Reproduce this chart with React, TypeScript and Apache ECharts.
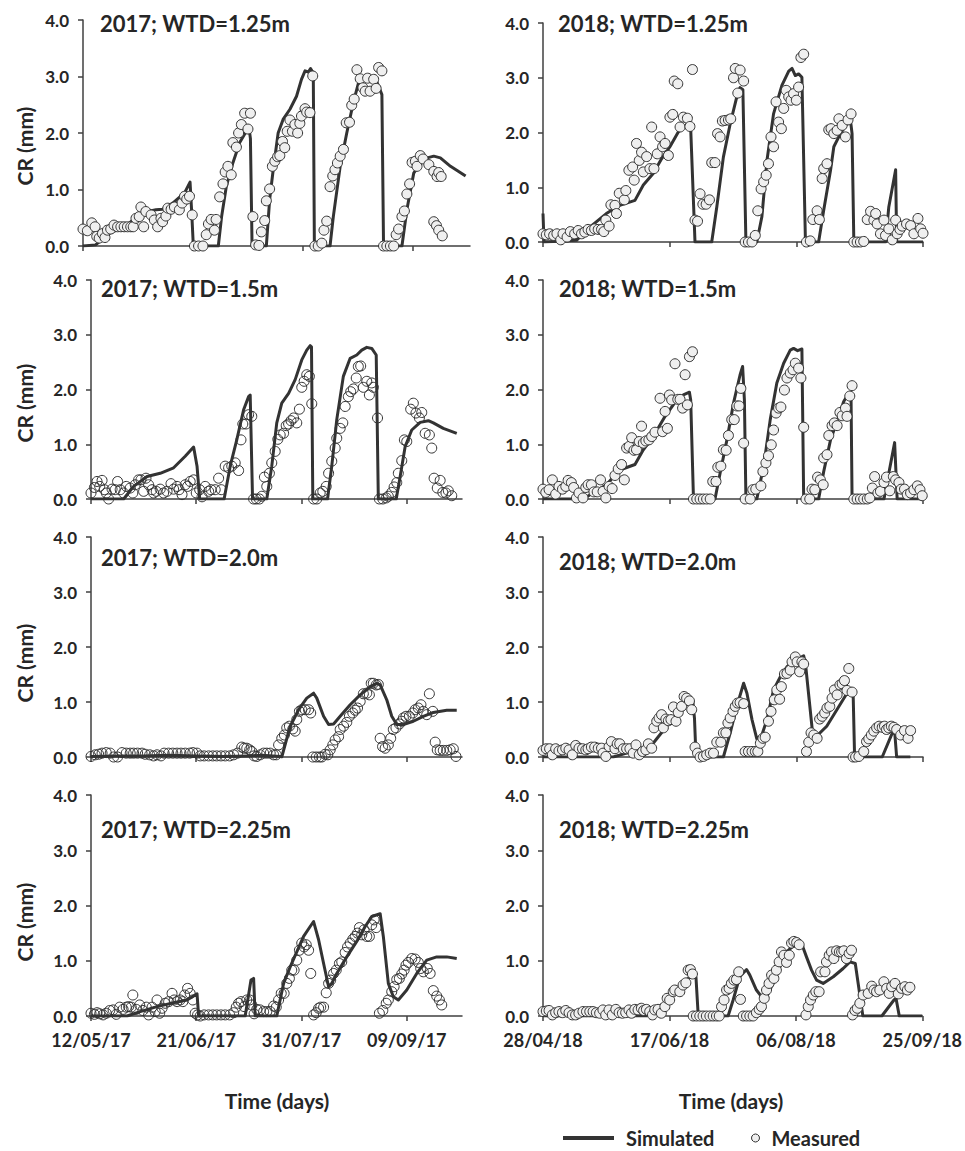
import React, { useEffect, useRef } from 'react';
import * as echarts from 'echarts';

// ---------------- DATA ----------------
const ticks2017 = ['12/05/17', '21/06/17', '31/07/17', '09/09/17'];
const ticks2018 = ['28/04/18', '17/06/18', '06/08/18', '25/09/18'];
const yTickValues = [0, 1, 2, 3, 4];
const panelTitles = [
  '2017; WTD=1.25m', '2018; WTD=1.25m',
  '2017; WTD=1.5m', '2018; WTD=1.5m',
  '2017; WTD=2.0m', '2018; WTD=2.0m',
  '2017; WTD=2.25m', '2018; WTD=2.25m',
];
const legendNames = ['Simulated', 'Measured'];
const yAxisTitle = 'CR (mm)';
const xAxisTitle = 'Time (days)';

// [day since axis start, CR mm]
const m2017_125 = [[0,0.30],[1.6,0.27],[3.2,0.41],[4.4,0.34],[5,0.17],[5.9,0.14],[7.1,0.22],[8,0.15],[8.9,0.28],[10.1,0.30],[11.3,0.37],[12.6,0.34],[13.8,0.34],[15,0.34],[16.2,0.34],[17.4,0.34],[18.3,0.34],[19.3,0.49],[20.5,0.52],[21.1,0.69],[22.1,0.34],[22.9,0.61],[24.8,0.55],[26,0.46],[27.2,0.34],[28.4,0.49],[29,0.43],[30.2,0.53],[30.9,0.67],[32.1,0.65],[33.3,0.69],[35.1,0.64],[36.1,0.76],[37,0.88],[37.8,0.83],[38.8,0.88],[39.8,0.55],[40.6,0],[42.1,0],[43.7,0],[44.9,0.20],[45.7,0.39],[46.7,0.47],[47.9,0.28],[48.5,0.47],[49.8,0.87],[51,1.10],[51.8,1.31],[52.8,1.41],[54,1.26],[54.6,1.83],[55.9,1.75],[56.7,2.0],[57.7,2.15],[58.9,2.35],[60.1,2.07],[61,2.35],[61.9,0.52],[62.9,0.02],[64.1,0.01],[65,0.25],[66.2,0.45],[66.8,0.80],[68,1.01],[69,1.41],[69.9,1.50],[70.9,1.58],[71.7,1.60],[72.7,1.85],[73.5,1.74],[74.4,2.03],[75.4,2.23],[76.3,2.03],[77.2,2.15],[78.2,2.0],[79,2.17],[79.6,2.30],[80.9,2.43],[81.5,2.37],[82.7,2.36],[83.7,3.01],[84.5,0],[85.7,0],[87,0.05],[87.8,0.28],[88.8,0.44],[90,1.05],[91,1.24],[91.8,1.35],[92.7,1.47],[93.7,1.59],[94.9,1.71],[95.9,2.18],[97.1,2.19],[97.9,2.49],[98.8,2.60],[99.8,3.12],[101,2.96],[102,2.80],[102.8,2.74],[103.7,2.97],[104.6,2.74],[105.9,2.95],[106.8,2.79],[107.7,3.16],[108.9,3.10],[109.5,0],[110.7,0],[112,0],[113.2,0],[114.1,0.20],[115,0.30],[116.2,0.52],[117.1,0.62],[118,0.92],[119,1.10],[119.9,1.48],[121.1,1.50],[121.7,1.41],[122.9,1.60],[123.9,1.54],[126,1.44],[127.8,1.32],[127.8,0.43],[128.8,0.36],[129,1.23],[129.6,1.30],[129.6,0.28],[130.5,1.23],[130.9,0.18]];
const s2017_125 = [[0,0],[4.6,0.02],[9.5,0.23],[15.6,0.34],[20.5,0.58],[26.6,0.64],[29,0.65],[32.7,0.76],[37,0.94],[39,1.13],[39.6,0.6],[40.2,0],[49.3,0],[50.5,0.52],[52.2,1.05],[54.6,1.47],[57.1,1.83],[59.5,2.03],[60.5,2.09],[61,1.9],[61.6,0],[66.8,0],[68,0.82],[69.3,1.35],[71.1,2.0],[72.9,2.24],[75.4,2.42],[77.8,2.65],[79.6,2.95],[80.9,3.10],[82.1,3.08],[82.9,3.14],[83.9,3.06],[84.3,0],[90,0],[91.2,0.52],[93.7,1.41],[96.1,2.0],[98.5,2.54],[100.4,2.89],[102.2,2.95],[104.6,2.95],[107.1,2.90],[108.9,2.68],[109.5,0],[116.2,0],[118,0.64],[120.5,1.29],[122.9,1.47],[125.4,1.56],[127.8,1.59],[130.2,1.56],[133.9,1.41],[139.4,1.24]];

const m2018_125 = [[0,0.15],[1.3,0.13],[2.6,0.15],[4.2,0.12],[5.5,0.15],[7,0.04],[7.9,0.15],[9.5,0.09],[10.8,0.19],[12.5,0.15],[13.9,0.21],[15.2,0.15],[16.5,0.18],[17.8,0.23],[19.1,0.21],[20.4,0.24],[21.8,0.23],[23.1,0.23],[24,0.19],[24.8,0.40],[26.1,0.29],[26.8,0.68],[28.4,0.67],[29,0.52],[30.1,0.89],[32.1,0.77],[32.7,0.94],[33.9,1.31],[35.4,1.37],[36,1.13],[36.9,1.80],[38,1.49],[38.9,1.64],[39.6,1.28],[40.9,1.56],[42.2,1.34],[42.9,2.10],[43.8,1.34],[45.1,1.61],[46.2,1.92],[47.2,1.74],[48.2,1.80],[49.5,1.58],[50.1,2.28],[51.2,2.33],[51.8,2.94],[53.2,2.89],[54.1,2.10],[55.4,2.28],[57,2.26],[58,2.11],[59,3.15],[60,0.40],[61,0.38],[62,0.88],[63.1,0.69],[64.4,0.69],[65.7,0.77],[66.6,1.45],[67.9,1.45],[68.9,1.98],[69.9,1.92],[70.8,2.21],[71.9,2.22],[73.2,2.23],[74.1,2.25],[75.2,3.00],[75.9,3.17],[76.9,2.72],[77.8,3.14],[79.2,2.94],[79.8,0],[81.1,0],[82.5,0],[83.8,0.12],[84.8,0.57],[86.1,0.97],[87.1,1.10],[88.1,1.22],[89,1.43],[90,1.92],[91,1.74],[92,2.56],[93,2.19],[94.1,2.07],[95,2.44],[96,2.77],[97,2.65],[97.9,2.59],[98.9,2.71],[100,2.59],[100.9,2.83],[101.8,3.37],[102.9,3.43],[104,0],[105.5,0.02],[106.5,0.41],[108.2,0.57],[109.1,0.41],[110.2,1.16],[110.8,1.34],[112.1,1.43],[112.8,2.05],[113.7,2.07],[114.8,1.98],[116.1,2.04],[116.8,2.25],[118.1,2.13],[119.4,1.92],[120.4,2.23],[121.6,2.34],[122.7,0],[124,0],[125.3,0],[126.6,0.01],[128,0.41],[129.3,0.56],[130.6,0.40],[131.3,0.52],[131.9,0.33],[133.2,0.15],[134.6,0.40],[135.2,0.12],[136.5,0.24],[137.9,0.04],[139.2,0.40],[139.8,0.15],[140.9,0.23],[141.8,0.29],[143.5,0.33],[145.1,0.30],[146.4,0.15],[148,0.43],[149.1,0.24],[150,0.16]];
const s2018_125 = [[0,0.52],[0.4,0],[13.2,0.03],[18.5,0.27],[25,0.52],[30.3,0.67],[36.3,0.76],[39.6,1.04],[43.5,1.25],[46.8,1.52],[50.1,1.74],[53.4,2.01],[55.4,2.10],[57.4,2.16],[58.3,2.07],[60,0],[66.6,0],[68.6,0.64],[71.2,1.55],[73.9,2.16],[76.5,2.65],[77.8,2.82],[78.9,2.78],[80.1,0],[84.4,0],[86.4,0.46],[88.4,1.49],[91,2.34],[94.3,2.86],[97,3.12],[98.3,3.17],[99.6,3.04],[100.9,3.07],[102.2,3.01],[103.6,0],[108.8,0],[110.8,0.58],[113.5,1.31],[114.8,1.74],[117.4,1.98],[120,2.16],[121.4,2.21],[122,1.98],[122.7,0],[135.2,0],[136.5,0.64],[139.2,1.32],[139.6,0],[150,0]];

const m2017_150 = [[0,0.11],[1.3,0.21],[2.3,0.32],[3.3,0.23],[4.2,0.34],[5.1,0.17],[5.8,0.11],[6.7,0],[8,0.18],[9.2,0.17],[10.1,0.32],[11.1,0.17],[12.4,0.11],[13.4,0.23],[14.9,0.20],[15.9,0.11],[16.8,0.26],[18.1,0.35],[19,0.35],[20,0.14],[20.9,0.38],[21.9,0.26],[23.2,0.17],[23.8,0.11],[24.8,0.14],[26.3,0.18],[27.6,0.11],[28.9,0.14],[30.4,0.28],[31.4,0.18],[32.7,0.23],[33.5,0.17],[34.6,0.08],[35.8,0.26],[36.7,0.23],[37.7,0.32],[39,0.35],[40,0.11],[41.3,0.17],[42.2,0.04],[43.4,0.23],[44.7,0.14],[45.6,0.17],[47.2,0.17],[48.5,0.38],[49.5,0.17],[51,0.60],[52.3,0.57],[53.5,0.60],[54.8,0.66],[56.1,0.52],[57,1.08],[57.7,1.37],[58.9,1.37],[59.9,1.54],[61.1,1.51],[61.8,0],[62.8,0],[64,0],[64.9,0.05],[65.9,0.40],[66.8,0.23],[67.8,0.47],[68.7,0.66],[70,0.87],[71,1.09],[71.9,1.17],[73.2,1.20],[74.2,1.34],[75.1,1.37],[76,1.43],[77,1.48],[78.2,1.39],[79.2,1.64],[80.1,2.04],[81,2.15],[82,2.27],[83,2.24],[83.9,1.74],[84.6,0],[85.8,0],[87.1,0.11],[88.1,0.14],[89.4,0.23],[90.3,0.47],[91.5,0.69],[92.8,0.93],[93.4,1.11],[94.7,1.29],[95.7,1.39],[96.6,1.69],[97.8,1.87],[98.7,1.96],[99.7,2.01],[100.8,2.21],[101.6,2.42],[102.5,2.43],[103.5,2.04],[104.8,2.15],[105.8,1.90],[106.7,2.12],[107.3,2.04],[108.9,1.48],[109.6,0],[110.9,0],[112.2,0.02],[113,0.05],[114.3,0.12],[115.2,0.22],[116.2,0.30],[116.8,0.47],[118.1,0.70],[119.1,1.08],[120,1.05],[121.5,1.64],[122.5,1.75],[123.5,1.57],[124.8,1.48],[125.7,1.58],[127,1.20],[128.6,1.17],[129.5,0.93],[130.4,0.38],[131.6,0.20],[132.7,0.34],[133.7,0.12],[134.9,0.11],[135.8,0.15],[137.1,0.06]];
const s2017_150 = [[0,0],[12.4,0],[16.2,0.23],[21.3,0.41],[26.3,0.47],[31.4,0.57],[35.8,0.78],[39,0.95],[40.3,0.60],[41.3,0],[50.6,0],[52.9,0.60],[55.4,1.08],[58,1.63],[59.9,1.87],[60.5,1.90],[61.4,0],[66.8,0],[68.7,0.60],[70.6,1.39],[72.5,1.75],[75.1,1.93],[77.6,2.18],[80.1,2.54],[82,2.72],[83.3,2.80],[83.8,2.78],[84.3,0],[89.9,0],[91.5,0.60],[93.4,1.45],[95.9,2.24],[98.5,2.57],[101,2.63],[102.9,2.72],[104.8,2.77],[106.7,2.75],[108.4,2.63],[109.2,0],[116,0],[117.5,0.41],[119.4,0.96],[121.9,1.26],[125.1,1.40],[128.2,1.43],[130.1,1.39],[133.9,1.29],[139,1.20]];

const m2018_150 = [[0,0.18],[1.1,0.12],[2.4,0.17],[3.7,0.35],[5,0.09],[6.3,0.23],[7.7,0.18],[9,0.23],[9.9,0.34],[11.2,0.30],[12.1,0.21],[13.2,0.02],[14.2,0.11],[15.8,0.02],[16.9,0.21],[17.8,0.26],[19.1,0.26],[20.1,0.13],[21.4,0.13],[22.7,0.35],[23.7,0.14],[24.8,0.02],[26.1,0.23],[27.3,0.19],[28.4,0.43],[29.7,0.55],[31,0.63],[32.1,0.35],[33,0.93],[34,0.96],[35,1.12],[35.9,0.89],[36.9,0.90],[38,1.05],[38.9,1.33],[39.6,1.02],[40.6,1.06],[41.8,1.08],[42.9,1.14],[44.2,1.22],[46.2,1.84],[47.2,1.23],[48.2,1.60],[49.1,1.29],[49.9,1.90],[50.8,1.81],[52.1,2.47],[53.2,1.82],[54.1,1.82],[55.1,1.66],[56.1,2.27],[57,1.72],[57.8,2.60],[59,2.69],[59.4,0],[60.7,0],[62,0],[63.3,0],[64.6,0],[66,0],[67,0.32],[68.3,0.32],[69,0.58],[70.2,0.60],[71.2,0.90],[72.3,0.89],[73.2,1.16],[74.5,1.45],[75.5,1.45],[76.5,1.70],[77.4,1.70],[78.1,2.02],[79.2,1.02],[79.8,0],[81.8,0],[82.8,0.17],[84,0.18],[86,0.24],[86.8,0.50],[88,0.66],[89,0.79],[90.1,0.99],[91,1.26],[92,1.57],[93,1.66],[93.9,1.68],[95.3,1.99],[96.3,2.21],[97.6,2.30],[98.7,2.36],[99.6,2.48],[100.9,2.39],[101.8,2.21],[102.9,1.31],[103.8,0],[105.3,0],[106.2,0.18],[107.3,0.17],[108.4,0.40],[109.5,0.35],[110.6,0.26],[110.8,0.75],[112.1,0.81],[112.8,1.16],[114.1,1.34],[115,1.39],[116.1,1.34],[117.2,1.58],[118.1,1.52],[119.4,1.66],[120,1.51],[121.1,1.88],[122,2.07],[122.7,0],[124,0],[125.3,0],[126.6,0],[128,0],[129,0.02],[130,0.20],[130.9,0.41],[132.2,0.11],[133.2,0.14],[134.6,0.30],[135.6,0.40],[136.9,0.15],[138.3,0.41],[139.2,0.35],[140.5,0.30],[141.4,0.18],[142.7,0.18],[143.8,0.08],[145.1,0.11],[146.4,0.17],[147.8,0.24],[148.8,0.17],[149.7,0.06]];
const s2018_150 = [[0,0],[15.8,0],[19.8,0.11],[25,0.26],[30.3,0.53],[36.3,0.63],[39.6,0.90],[43.5,1.14],[48.2,1.51],[52.8,1.81],[55.4,1.90],[57.8,1.95],[58.3,1.81],[59.4,0],[67.9,0],[69.9,0.47],[72.6,1.08],[75.2,1.75],[77.8,2.27],[78.8,2.42],[79.5,1.81],[80.1,0],[84.4,0],[87.1,0.60],[89.7,1.45],[92.3,2.12],[95,2.48],[97.6,2.72],[98.9,2.75],[100.5,2.71],[102.2,2.74],[102.9,0],[108.8,0],[110.8,0.50],[113.5,1.08],[116.1,1.42],[118.7,1.78],[120.7,1.93],[121.6,1.84],[122,0],[134.6,0],[136.5,0.47],[138.8,1.03],[139.8,0],[150,0]];

const m2017_200 = [[0,0.01],[1.6,0.04],[2.9,0.05],[4.2,0.07],[5.8,0.08],[7.3,0.07],[8.6,0],[10.1,0],[11.8,0.08],[13.4,0.07],[14.9,0.07],[16.2,0.07],[17.7,0.07],[19.4,0.07],[20.6,0.05],[22.3,0.04],[23.8,0.02],[25.1,0.04],[26.6,0.02],[27.8,0.07],[29.5,0.07],[31.1,0.07],[32.7,0.07],[34.2,0.07],[35.8,0.07],[37.5,0.07],[38.7,0.08],[40.3,0.07],[41.5,0.02],[43,0.02],[44.7,0.02],[46.3,0.02],[47.8,0.02],[49.4,0.02],[51,0.02],[52.7,0.02],[54.2,0.04],[55.7,0.07],[57.3,0.18],[58.2,0.16],[59.2,0.16],[60.3,0.13],[61.1,0.10],[62,0.02],[63,0.01],[64.3,0.04],[65.6,0.07],[66.8,0.07],[68.1,0.07],[69.4,0.04],[70.4,0.04],[71.3,0.22],[72.5,0.34],[73.5,0.40],[74.4,0.53],[75.4,0.56],[76.7,0.51],[77.6,0.47],[78.2,0.68],[79.2,0.83],[80.1,0.86],[81.4,0.86],[82.7,0.86],[83.5,0.80],[84.3,0],[85.6,0],[86.8,0],[87.7,0],[89,0.05],[90,0.04],[90.9,0.13],[91.9,0.22],[92.8,0.31],[94.1,0.37],[94.7,0.50],[96,0.56],[97.2,0.63],[98.2,0.74],[99.5,0.80],[100.4,0.85],[101.3,0.89],[102.3,1.01],[103.5,1.15],[104.8,1.16],[105.8,1.13],[106.5,1.34],[107.3,1.34],[108.4,1.31],[109.2,1.32],[109.9,0.34],[110.8,0.19],[111.8,0.16],[113,0.22],[113.9,0.34],[114.9,0.50],[115.9,0.53],[117.2,0.60],[118.1,0.65],[118.7,0.71],[119.7,0.74],[121,0.74],[122.3,0.80],[123.2,0.86],[124.4,0.89],[125.4,0.95],[126.3,0.83],[127.6,0.77],[128.6,1.15],[129.9,0.83],[130.8,0.27],[131.6,0.13],[132.7,0.12],[133.9,0.12],[135.2,0.12],[136.5,0.13],[137.7,0.15],[138.7,0.01]];
const s2017_200 = [[0,0.01],[10,0.02],[20,0.02],[30,0.03],[40,0.02],[50,0.01],[60,0.02],[65,0.03],[72,0.01],[72.5,0],[75.7,0.56],[78.9,0.86],[82,1.07],[84.6,1.16],[85.8,1.07],[88.4,0.74],[90.3,0.59],[92.2,0.60],[94.7,0.74],[98.5,0.95],[102.3,1.13],[106.1,1.28],[108.6,1.34],[109.9,1.31],[112.4,1.04],[114.3,0.74],[116.2,0.59],[118.7,0.59],[122.5,0.65],[126.3,0.74],[130.1,0.81],[135.2,0.85],[139,0.85]];

const m2018_200 = [[0,0.12],[1.3,0.15],[2.6,0.15],[3.7,0.04],[5,0.15],[6.3,0.11],[7.7,0.13],[9,0.16],[10.3,0.13],[11.6,0.04],[12.9,0.21],[14.2,0.16],[15.6,0.15],[16.9,0.13],[17.8,0.15],[19.1,0.18],[20.4,0.18],[21.8,0.16],[23.1,0.16],[23.7,0.07],[24.8,0.01],[26.1,0.19],[27,0.28],[28.4,0.15],[29.3,0.24],[30.3,0.24],[31.7,0.15],[33,0.15],[34.3,0.15],[35.6,0.07],[36.7,0.22],[38,0.04],[39.3,0.10],[40.6,0.13],[41.6,0.24],[42.9,0.16],[43.8,0.53],[44.9,0.65],[45.8,0.71],[46.8,0.77],[47.5,0.53],[48.5,0.69],[49.5,0.66],[50.5,0.68],[51.5,0.91],[52.5,0.65],[53.4,0.81],[54.7,0.92],[55.7,1.10],[56.7,1.07],[57.8,1.02],[58.7,0.86],[60,0.18],[61,0.07],[62,0],[63.3,0.01],[64.6,0.04],[66,0.07],[67.3,0.07],[68.6,0.27],[70.2,0.27],[71.2,0.44],[72.2,0.44],[73,0.62],[73.9,0.71],[75,0.83],[75.9,0.92],[76.8,0.98],[77.8,0.99],[79.2,0.97],[79.8,0.10],[81.1,0.10],[82.5,0.10],[83.8,0.10],[84.8,0.10],[85.8,0.25],[86.8,0.34],[87.7,0.36],[89,0.65],[90,0.83],[91.3,1.04],[92.3,1.22],[93.4,1.05],[94.1,1.28],[95.3,1.51],[96.3,1.52],[97.6,1.58],[98.3,1.73],[99.6,1.82],[100.3,1.73],[101.3,1.55],[102.2,1.73],[102.9,1.69],[104,0.10],[104.9,0.27],[105.8,0.44],[106.9,0.40],[108.2,0.34],[109.2,0.69],[110.2,0.74],[111.2,0.80],[112.1,0.89],[113.2,0.92],[114.1,1.07],[115,1.22],[116.1,1.13],[117.2,1.31],[118.1,1.33],[119,1.39],[120,1.21],[120.7,1.61],[122,1.18],[122.4,0],[123.4,0],[124.7,0.01],[126.6,0.10],[127.7,0.28],[128.6,0.33],[129.6,0.40],[130.6,0.47],[131.7,0.53],[132.7,0.56],[133.9,0.54],[134.8,0.56],[135.6,0.50],[136.5,0.53],[137.5,0.56],[138.5,0.54],[139.6,0.50],[141.2,0.40],[142.7,0.48],[144.1,0.34],[145.1,0.48]];
const s2018_200 = [[0,0],[27.7,0],[33,0.07],[39.6,0.13],[43.5,0.25],[48.8,0.56],[52.8,0.77],[56.7,1.01],[59.1,1.04],[59.8,0.70],[60.4,0],[71.2,0],[73.9,0.44],[76.5,0.92],[79.2,1.34],[80.5,1.16],[82.5,0.68],[84.4,0.33],[86.4,0.40],[88.4,0.68],[91,1.22],[93.7,1.46],[96.3,1.64],[99.6,1.76],[102.9,1.84],[103.6,1.70],[106.5,0.40],[108,0.38],[112,0.56],[116,0.86],[120,1.16],[121.6,1.25],[122.4,1.20],[123,0],[133.9,0],[137.9,0.44],[138.8,0.47],[139.6,0],[145,0]];

const m2017_225 = [[0,0.05],[1.3,0.03],[2.3,0.06],[3.3,0.04],[4.6,0.02],[5.8,0.05],[7.1,0.10],[8.4,0.11],[9.6,0.03],[10.9,0.16],[12.2,0.12],[13.4,0.16],[14.3,0.17],[15.3,0.16],[15.9,0.38],[17.2,0.12],[18.5,0.20],[19.7,0.10],[21,0.16],[21.9,0.02],[23.2,0.16],[24.4,0.08],[25.1,0.29],[26.1,0.05],[27,0.14],[28.2,0.23],[29.5,0.26],[30.8,0.41],[31.6,0.29],[32.7,0.26],[33.9,0.29],[34.9,0.26],[35.6,0.38],[36.7,0.50],[37.7,0.41],[38.7,0.29],[39.6,0.05],[40.5,0.02],[41.5,0],[43,0.02],[44.7,0.02],[46.3,0.02],[47.8,0.02],[49.4,0.02],[51,0.02],[52.7,0.02],[54.2,0.06],[55.2,0.16],[56.1,0.23],[57,0.26],[58.2,0.17],[59.2,0.29],[60.3,0.29],[61.1,0.20],[62,0.04],[63,0.12],[64.3,0.11],[65.6,0.08],[66.8,0.08],[68.1,0.08],[69.4,0.18],[70.4,0.16],[71.3,0.29],[72.3,0.41],[73.4,0.41],[74.4,0.59],[75.4,0.68],[76.3,0.83],[77.2,0.83],[78.2,1.01],[79.2,1.19],[80.1,1.32],[81,1.25],[81.8,1.29],[82.7,1.19],[83.5,0.77],[84.6,0.02],[85.6,0.06],[86.5,0.14],[87.3,0.16],[88.4,0.16],[89.4,0.42],[90.3,0.59],[91.1,0.65],[92.2,0.77],[93.2,0.83],[94.4,0.95],[95.3,0.98],[96.6,1.15],[97.5,1.25],[98.5,1.32],[99.5,1.39],[100.4,1.44],[101.3,1.50],[102,1.60],[102.9,1.47],[103.8,1.56],[104.8,1.44],[105.8,1.44],[106.7,1.65],[107.6,1.74],[108.4,1.60],[109.6,0.05],[110.9,0.10],[112.2,0.23],[113,0.29],[114.3,0.44],[115.2,0.53],[116.2,0.66],[117.2,0.68],[118.1,0.76],[119,0.83],[119.7,0.92],[120.6,0.97],[121.9,1.04],[123.2,1.03],[124.4,0.97],[125.3,0.86],[126.3,0.80],[127.8,0.86],[128.9,0.77],[130.1,0.46],[131.4,0.36],[132.4,0.29],[133.3,0.20]];
const s2017_225 = [[0,0],[13.7,0],[18.7,0.08],[25.1,0.17],[31.4,0.24],[36.5,0.29],[40.3,0.40],[40.9,0],[58.6,0],[60.8,0.65],[61.8,0.68],[62.4,0],[70.6,0],[73.2,0.59],[75.7,0.89],[78.2,1.16],[80.8,1.44],[83.3,1.62],[84.6,1.71],[86.5,1.38],[88.4,0.95],[90.3,0.53],[91.5,0.59],[93.4,0.77],[97.2,1.07],[101,1.35],[104.2,1.62],[106.7,1.80],[109.9,1.85],[111.1,1.44],[113,0.59],[114.9,0.35],[116.8,0.29],[120,0.47],[123.8,0.77],[127.6,1.01],[131.4,1.07],[135.2,1.07],[139,1.04]];

const m2018_225 = [[0,0.08],[1.3,0.09],[2.4,0.10],[3.7,0.02],[5,0.06],[6.3,0.08],[7.7,0.06],[9,0.10],[10.3,0.06],[11.6,0.02],[12.9,0.02],[14.2,0.05],[15.8,0.08],[17.2,0.08],[18.5,0.08],[19.8,0.08],[21.1,0.06],[22.4,0.05],[23.7,0.11],[24.8,0.02],[26.1,0.11],[27.4,0.02],[28.8,0.12],[30.1,0.06],[31.4,0.05],[32.7,0.06],[34,0.11],[35,0.05],[36.3,0.12],[37.6,0.11],[38.9,0.14],[39.8,0.10],[40.9,0.12],[42.2,0.08],[43.3,0.02],[44.2,0.11],[45.5,0.12],[46.8,0.05],[48.2,0.17],[49.1,0.32],[50.1,0.29],[51.5,0.44],[52.1,0.47],[54.1,0.44],[55.4,0.56],[56.5,0.60],[57.4,0.83],[58.3,0.84],[59.1,0.76],[59.4,0],[60.7,0],[62,0],[63.3,0],[64.6,0],[66,0],[67.3,0],[68.6,0],[69.7,0],[70.6,0.17],[71.6,0.29],[72.6,0.47],[73.6,0.50],[74.5,0.59],[75.5,0.65],[76.5,0.66],[77.4,0.80],[78.1,0.30],[79.2,0],[80.5,0],[81.8,0],[83.1,0],[84.4,0.06],[85.5,0.12],[86.4,0.17],[87.5,0.32],[88.4,0.47],[89.4,0.59],[90.4,0.74],[91.3,0.68],[92.3,0.83],[93.4,0.98],[94.3,1.16],[95.3,1.10],[96.3,0.97],[97.4,1.10],[98.3,1.32],[99.2,1.35],[100.3,1.33],[101.3,1.29],[104,0.02],[104.9,0.17],[105.8,0.29],[106.9,0.38],[107.9,0.44],[109.2,0.44],[109.8,0.80],[111.5,0.80],[112.1,0.98],[113.2,1.10],[114.1,1.16],[115,1.04],[116.1,1.18],[117.2,1.16],[118.1,1.16],[119,1.18],[120,1.04],[121.1,1.13],[122,1.19],[122.4,0.02],[123.4,0.10],[124.3,0.14],[125.3,0.23],[126.6,0.38],[128.6,0.41],[130,0.54],[130.9,0.47],[131.9,0.44],[133.2,0.47],[134.8,0.62],[135.9,0.50],[136.9,0.41],[137.9,0.53],[139.2,0.59],[140.5,0.40],[141.8,0.50],[143.1,0.53],[144.1,0.47],[145.1,0.52]];
const s2018_225 = [[0,0],[40.9,0],[43.5,0.08],[46.8,0.20],[48.2,0.23],[52.8,0.47],[56.7,0.65],[59.4,0.76],[60.5,0.70],[61.4,0],[73.2,0],[75.2,0.29],[77.8,0.71],[80.5,0.84],[81.8,0.74],[84.4,0.47],[86.4,0.35],[88.4,0.35],[91,0.59],[93.7,0.89],[96.3,1.16],[99.6,1.29],[102.2,1.32],[104.2,1.07],[106.2,0.83],[108.2,0.65],[110.8,0.59],[114.8,0.71],[118.7,0.86],[121.4,0.98],[123.5,0.95],[126.5,0],[134,0],[138.8,0.29],[139.6,0.32],[140.9,0],[150,0]];

const measuredSets = [m2017_125, m2018_125, m2017_150, m2018_150, m2017_200, m2018_200, m2017_225, m2018_225];
const simulatedSets = [s2017_125, s2018_125, s2017_150, s2018_150, s2017_200, s2018_200, s2017_225, s2018_225];
const axisDays2017 = { max: 141, step: 40 };
const axisDays2018 = { max: 150, step: 50 };

// ---------------- LAYOUT / STYLE ----------------
const W = 965;
const H = 1151;
const FONT = 'Lato';
const TEXT = '#262626';
const DARK = '#333333';
const GRIDS = [
  { left: 83, top: 20, width: 387, height: 226 },
  { left: 543, top: 23, width: 380, height: 219 },
  { left: 91, top: 280, width: 371, height: 219 },
  { left: 543, top: 280, width: 380, height: 219 },
  { left: 91, top: 537, width: 371, height: 220 },
  { left: 543, top: 537, width: 380, height: 220 },
  { left: 91, top: 795, width: 371, height: 221 },
  { left: 543, top: 795, width: 380, height: 221 },
];
const TITLE_POS = [[100, 23], [558, 23], [101, 288], [559, 288], [101, 557], [559, 561], [101, 829], [559, 829]];
const HOLLOW = [false, false, true, false, true, false, true, false];
const CR_POS = [[24, 146], [24, 403], [24, 663], [24, 922]];
const TIME_POS = [[277, 1100], [731, 1100]];

function buildOption() {
  const xAxis: any[] = [];
  const yAxis: any[] = [];
  const series: any[] = [];
  GRIDS.forEach((g, i) => {
    const is2017 = i % 2 === 0;
    const ax = is2017 ? axisDays2017 : axisDays2018;
    const labels = is2017 ? ticks2017 : ticks2018;
    const tickVals = labels.map((_, k) => k * ax.step);
    const bottom = i >= 6;
    xAxis.push({
      type: 'value', gridIndex: i, min: 0, max: ax.max, interval: ax.step,
      splitLine: { show: false },
      axisLine: { show: true, onZero: false, lineStyle: { color: '#404040', width: 1.5 } },
      axisTick: { show: true, inside: false, length: 5, customValues: tickVals, lineStyle: { color: '#404040', width: 1.5 } },
      axisLabel: {
        show: bottom, customValues: tickVals, margin: 15,
        formatter: (v: number) => labels[Math.round(v / ax.step)] ?? '',
        color: TEXT, fontFamily: FONT, fontWeight: 'bold', fontSize: 18,
      },
    });
    yAxis.push({
      type: 'value', gridIndex: i, min: 0, max: 4, interval: 1,
      splitLine: { show: false },
      axisLine: { show: true, lineStyle: { color: '#404040', width: 1.5 } },
      axisTick: { show: true, inside: false, length: 5, customValues: yTickValues, lineStyle: { color: '#404040', width: 1.5 } },
      axisLabel: {
        margin: 14, customValues: yTickValues,
        formatter: (v: number) => v.toFixed(1),
        color: TEXT, fontFamily: FONT, fontWeight: 'bold', fontSize: 17,
      },
    });
    series.push({
      type: 'line', name: legendNames[0], xAxisIndex: i, yAxisIndex: i,
      data: simulatedSets[i], showSymbol: false, symbol: 'none', silent: true,
      lineStyle: { color: DARK, width: 3, join: 'round' }, itemStyle: { color: DARK }, z: 2,
    });
    series.push({
      type: 'scatter', name: legendNames[1], xAxisIndex: i, yAxisIndex: i,
      data: measuredSets[i], symbol: 'circle', symbolSize: 10, clip: false, silent: true,
      itemStyle: { color: HOLLOW[i] ? 'transparent' : '#efefef', borderColor: DARK, borderWidth: 1, opacity: 1 },
      z: 3,
    });
  });

  const graphic: any[] = [];
  panelTitles.forEach((t, i) => {
    graphic.push({
      type: 'text', x: TITLE_POS[i][0], y: TITLE_POS[i][1],
      style: { text: t, fill: TEXT, font: `bold 22px ${FONT}`, textAlign: 'left', textVerticalAlign: 'middle' },
    });
  });
  CR_POS.forEach(([x, y]) => {
    graphic.push({
      type: 'text', x, y, rotation: Math.PI / 2,
      style: { text: yAxisTitle, fill: TEXT, font: `bold 21px ${FONT}`, textAlign: 'center', textVerticalAlign: 'middle' },
    });
  });
  TIME_POS.forEach(([x, y]) => {
    graphic.push({
      type: 'text', x, y,
      style: { text: xAxisTitle, fill: TEXT, font: `bold 21px ${FONT}`, textAlign: 'center', textVerticalAlign: 'middle' },
    });
  });

  const legendText = { color: TEXT, fontFamily: FONT, fontWeight: 'bold', fontSize: 20, lineHeight: 20, padding: [0, 0, 0, 7] };
  return {
    animation: false,
    backgroundColor: '#ffffff',
    grid: GRIDS.map((g) => ({ ...g, containLabel: false })),
    xAxis, yAxis, series, graphic,
    legend: [
      { data: [legendNames[0]], left: 563, top: 1128, padding: 0, itemWidth: 51, itemHeight: 4, icon: 'rect', textStyle: legendText, selectedMode: false },
      { data: [legendNames[1]], left: 751, top: 1128, padding: 0, itemWidth: 8, itemHeight: 8, icon: 'circle', textStyle: legendText, selectedMode: false, itemStyle: { color: '#efefef', borderColor: DARK, borderWidth: 1 } },
    ],
  };
}

export default function App() {
  const ref = useRef<HTMLDivElement>(null);
  useEffect(() => {
    if (!ref.current) return;
    const chart = echarts.init(ref.current, null, { renderer: 'svg', width: W, height: H });
    chart.setOption(buildOption());
    return () => chart.dispose();
  }, []);
  return <div ref={ref} style={{ position: 'absolute', left: 0, top: 0, width: W, height: H, background: '#fff' }} />;
}
